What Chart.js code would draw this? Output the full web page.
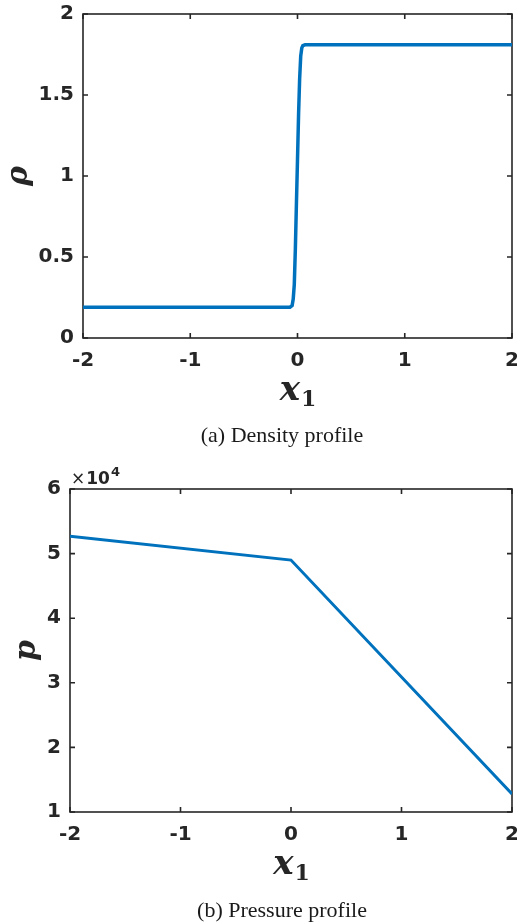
<!DOCTYPE html>
<html>
<head>
<meta charset="utf-8">
<script src="https://cdn.jsdelivr.net/npm/chart.js@4.4.1/dist/chart.umd.min.js"></script>
<style>
  html, body { margin: 0; padding: 0; background: #fff; }
  #wrap { position: relative; width: 517px; height: 923px; }
  canvas { position: absolute; left: 0; }
  #density { top: 0; }
  #pressure { top: 462px; }
</style>
</head>
<body>
<div id="wrap">
  <canvas id="density" width="517" height="462"></canvas>
  <canvas id="pressure" width="517" height="461"></canvas>
</div>
<script>
// density profile across the shock
const densX = [-2, -0.07, -0.05, -0.04, -0.03, -0.02, -0.01, 0, 0.01, 0.02, 0.03, 0.04, 0.05, 0.07, 2];
const densY = [0.19, 0.19, 0.2, 0.24, 0.33, 0.55, 0.83, 1.1, 1.38, 1.6, 1.74, 1.79, 1.805, 1.81, 1.81];
// pressure profile
const presX = [-2, 0, 2];
const presY = [52700, 49000, 12800];

const xTicks = [-2, -1, 0, 1, 2];
const densTicks = [0, 0.5, 1, 1.5, 2];
const presTicks = [10000, 20000, 30000, 40000, 50000, 60000];

const ink = '#262626';
const blue = '#0072BD';
const tickFont = { family: 'DejaVu Sans', weight: 'bold', size: 20 };

// box around the axes with inward ticks on all four sides, plus the x1 label and caption
const framePlugin = {
  id: 'frame',
  beforeDatasetsDraw(chart) {
    const { ctx, chartArea: a, scales: { x, y } } = chart;
    ctx.save();
    ctx.strokeStyle = ink;
    ctx.lineWidth = 1.6;
    ctx.strokeRect(a.left, a.top, a.right - a.left, a.bottom - a.top);
    ctx.beginPath();
    x.ticks.forEach(t => {
      const px = x.getPixelForValue(t.value);
      ctx.moveTo(px, a.bottom); ctx.lineTo(px, a.bottom - 5);
      ctx.moveTo(px, a.top); ctx.lineTo(px, a.top + 5);
    });
    y.ticks.forEach(t => {
      const py = y.getPixelForValue(t.value);
      ctx.moveTo(a.left, py); ctx.lineTo(a.left + 5, py);
      ctx.moveTo(a.right, py); ctx.lineTo(a.right - 5, py);
    });
    ctx.stroke();
    ctx.restore();
  },
  afterDraw(chart, args, opts) {
    const { ctx, chartArea: a } = chart;
    ctx.save();
    ctx.fillStyle = ink;
    ctx.textBaseline = 'alphabetic';
    // x_1 axis label
    const cx = (a.left + a.right) / 2;
    const base = a.bottom + 62;
    ctx.font = 'bold italic 34px "DejaVu Serif"';
    const wx = ctx.measureText('x').width;
    ctx.font = 'bold 22px "DejaVu Serif"';
    const w1 = ctx.measureText('1').width;
    const sx = cx - (wx + w1) / 2;
    ctx.font = 'bold italic 34px "DejaVu Serif"';
    ctx.fillText('x', sx, base);
    ctx.font = 'bold 22px "DejaVu Serif"';
    ctx.fillText('1', sx + wx + 1, base + 6);
    // exponent marker above the y axis
    if (opts.exponent) {
      let ex = a.left + 1;
      const ey = a.top - 5;
      ctx.font = '17px "DejaVu Sans"';
      ctx.fillText('×', ex, ey);
      ex += ctx.measureText('×').width + 1;
      ctx.font = 'bold 17px "DejaVu Sans"';
      ctx.fillText('10', ex, ey);
      ex += ctx.measureText('10').width + 1;
      ctx.font = 'bold 13px "DejaVu Sans"';
      ctx.fillText(opts.exponent, ex, ey - 8);
    }
    // caption under the figure
    ctx.fillStyle = '#1a1a1a';
    ctx.font = '22px "Liberation Serif"';
    ctx.textAlign = 'center';
    ctx.fillText(opts.caption, 282, opts.captionY);
    ctx.restore();
  }
};

function makeChart(canvas, xs, ys, cfg) {
  return new Chart(canvas, {
    type: 'line',
    data: {
      datasets: [{
        data: xs.map((v, i) => ({ x: v, y: ys[i] })),
        borderColor: blue,
        borderWidth: cfg.lineWidth,
        pointRadius: 0,
        tension: 0,
        fill: false
      }]
    },
    options: {
      responsive: false,
      animation: false,
      layout: { padding: { left: 0, right: 5, top: cfg.top, bottom: 0 } },
      plugins: {
        legend: { display: false },
        tooltip: { enabled: false },
        frame: { caption: cfg.caption, captionY: cfg.captionY, exponent: cfg.exponent }
      },
      scales: {
        x: {
          type: 'linear',
          min: -2, max: 2,
          afterBuildTicks: s => { s.ticks = xTicks.map(v => ({ value: v })); },
          afterFit: s => { s.height = cfg.xHeight; s.paddingLeft = 0; s.paddingRight = 0; },
          grid: { display: false, drawTicks: false },
          border: { display: false },
          ticks: { color: ink, font: tickFont, padding: 11, maxRotation: 0 }
        },
        y: {
          type: 'linear',
          min: cfg.yTicks[0], max: cfg.yTicks[cfg.yTicks.length - 1],
          afterBuildTicks: s => { s.ticks = cfg.yTicks.map(v => ({ value: v })); },
          afterFit: s => { s.width = cfg.yWidth; s.paddingTop = 0; s.paddingBottom = 0; },
          grid: { display: false, drawTicks: false },
          border: { display: false },
          ticks: { color: ink, font: tickFont, padding: 9, callback: cfg.yFormat },
          title: {
            display: true,
            text: cfg.yTitle,
            color: ink,
            font: { family: 'DejaVu Serif', weight: 'bold', style: 'italic', size: 30 },
            padding: { top: cfg.titlePad, bottom: 3 }
          }
        }
      }
    },
    plugins: [framePlugin]
  });
}

makeChart(document.getElementById('density'), densX, densY, {
  lineWidth: 3.5, top: 14, xHeight: 124, yWidth: 83, titlePad: 1,
  yTicks: densTicks, yTitle: 'ρ',
  yFormat: v => String(v),
  caption: '(a) Density profile', captionY: 442
});

makeChart(document.getElementById('pressure'), presX, presY, {
  lineWidth: 3, top: 27, xHeight: 111, yWidth: 70, titlePad: 9,
  yTicks: presTicks, yTitle: 'p',
  yFormat: v => String(v / 10000),
  exponent: '4',
  caption: '(b) Pressure profile', captionY: 455
});
</script>
</body>
</html>
